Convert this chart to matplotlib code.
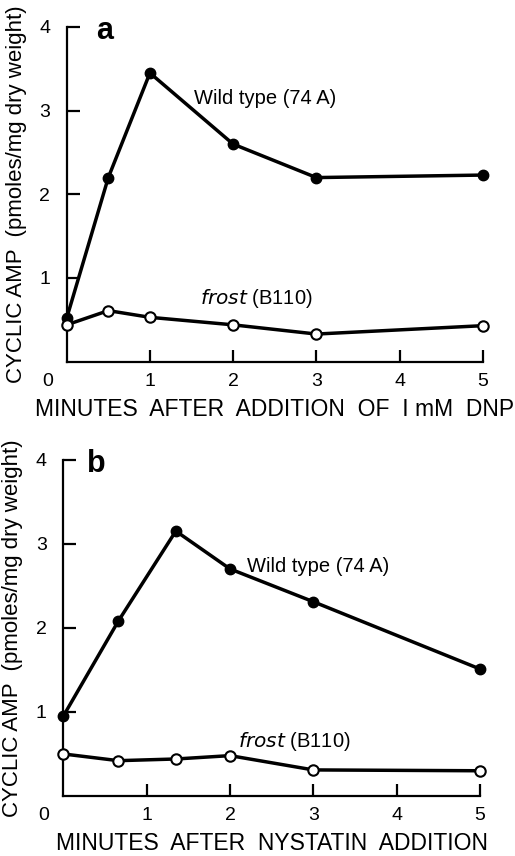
import numpy as np
import matplotlib
matplotlib.use('Agg')
import matplotlib.pyplot as plt

plt.rcParams['font.family'] = ['Liberation Sans', 'DejaVu Sans']

# panel a: DNP
dnp_minutes = [0.0, 0.5, 1.0, 2.0, 3.0, 5.0]
dnp_wild = [0.52, 2.20, 3.45, 2.60, 2.20, 2.23]
dnp_frost = [0.44, 0.61, 0.53, 0.44, 0.33, 0.43]

# panel b: nystatin
nys_minutes = [0.0, 0.66, 1.35, 2.0, 3.0, 5.0]
nys_wild = [0.95, 2.08, 3.15, 2.70, 2.31, 1.51]
nys_frost = [0.50, 0.42, 0.44, 0.48, 0.31, 0.30]

x_ticks = [1, 2, 3, 4, 5]
y_ticks = [1, 2, 3, 4]
y_label = 'CYCLIC AMP  (pmoles/mg dry weight)'


def draw_panel(ax, x, wild, frost, letter, xlabel, letter_pos, wild_pos, frost_pos):
    ax.plot(x, wild, color='black', lw=2.5, marker='o', ms=7.5,
            mfc='black', mec='black', zorder=3, clip_on=False)
    ax.plot(x, frost, color='black', lw=2.5, marker='o', ms=7.5,
            mfc='white', mec='black', mew=1.5, zorder=3, clip_on=False)
    ax.set_xlim(0, 5)
    ax.set_ylim(0, 4)
    for s in ['top', 'right']:
        ax.spines[s].set_visible(False)
    for s in ['left', 'bottom']:
        ax.spines[s].set_linewidth(1.6)
    ax.set_xticks(x_ticks)
    ax.set_xticklabels([str(t) for t in x_ticks])
    ax.set_yticks(y_ticks)
    ax.set_yticklabels([str(t) for t in y_ticks])
    ax.tick_params(axis='both', direction='in', length=9, width=1.6,
                   labelsize=14)
    ax.tick_params(axis='y', pad=12)
    ax.tick_params(axis='x', pad=8)
    ax.annotate('0', xy=(0, 0), xycoords='axes fraction', xytext=(-14, -14),
                textcoords='offset points', ha='center', va='center', fontsize=14)
    ax.set_xlabel(xlabel, fontsize=16.5, labelpad=6)
    ax.set_ylabel(y_label, fontsize=16, labelpad=9)
    ax.text(letter_pos[0], letter_pos[1], letter, fontsize=22, fontweight='bold',
            ha='left', va='center')
    ax.text(wild_pos[0], wild_pos[1], 'Wild type (74 A)', fontsize=14.5,
            ha='left', va='center')
    ax.text(frost_pos[0], frost_pos[1], r'$\it{frost}$ (B110)', fontsize=14.5,
            ha='left', va='center')


fig = plt.figure(figsize=(5.15, 8.56), dpi=100)
ax_a = fig.add_axes([0.1295, 0.5775, 0.808, 0.391])
ax_b = fig.add_axes([0.123, 0.0701, 0.809, 0.393])

draw_panel(ax_a, dnp_minutes, dnp_wild, dnp_frost, 'a',
           'MINUTES  AFTER  ADDITION  OF  I mM  DNP',
           (0.35, 3.95), (1.53, 3.15), (1.60, 0.76))
draw_panel(ax_b, nys_minutes, nys_wild, nys_frost, 'b',
           'MINUTES  AFTER  NYSTATIN  ADDITION',
           (0.28, 3.95), (2.2, 2.73), (2.1, 0.65))

fig.savefig('out.png', dpi=100)
